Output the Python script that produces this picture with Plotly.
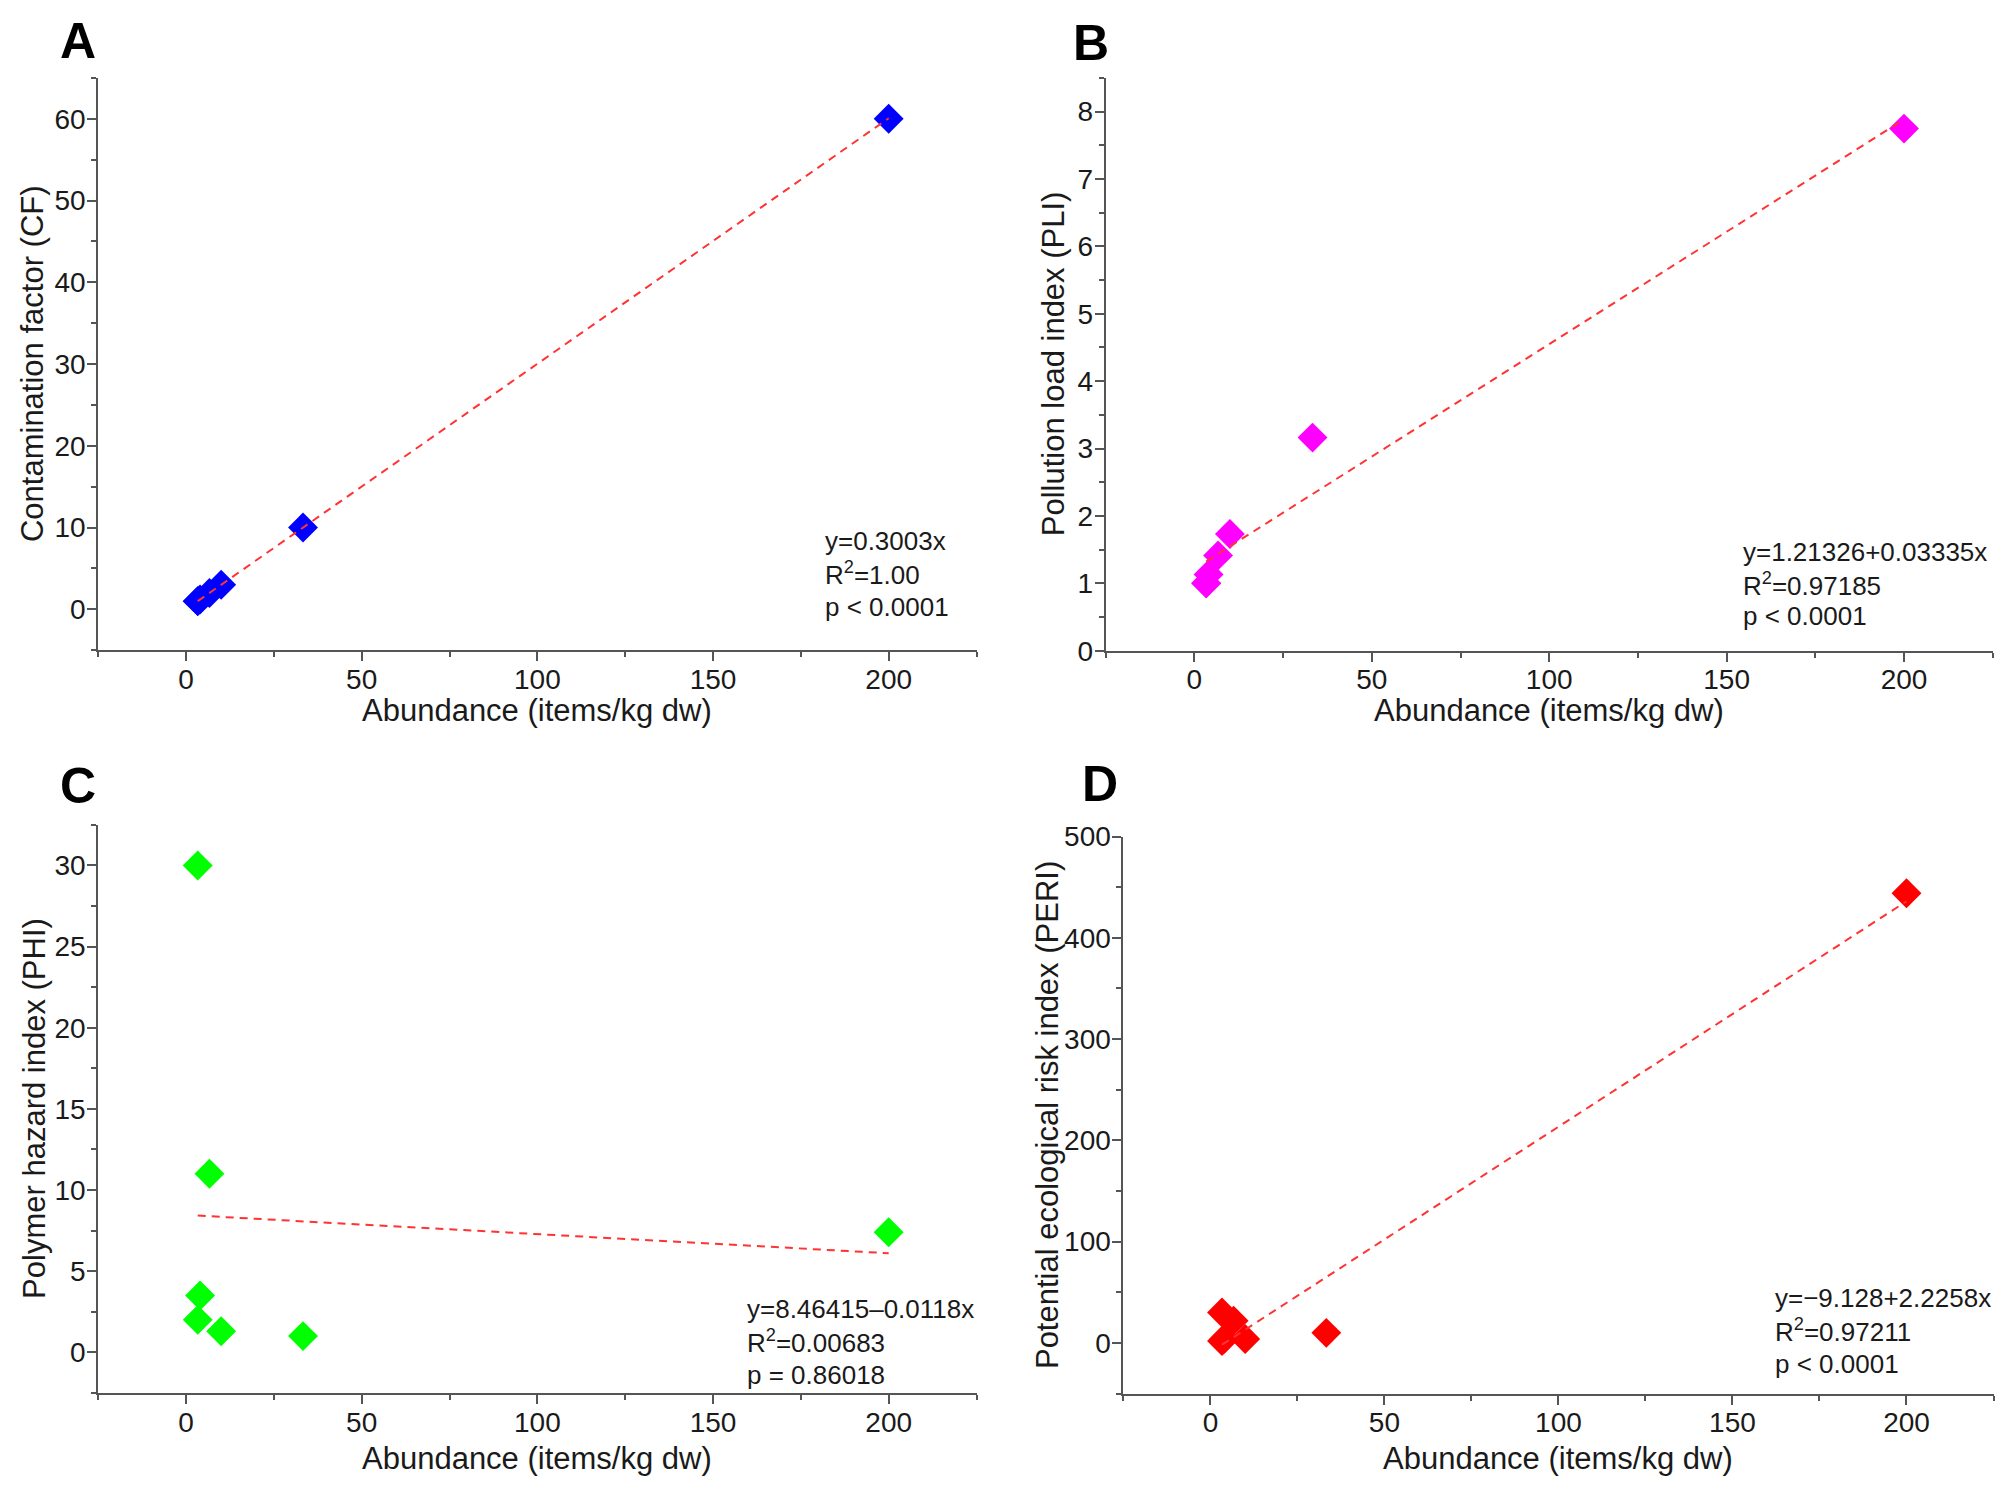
import plotly.graph_objects as go

# ---------------- data ----------------
abundance = [3.33, 3.33, 4.0, 6.67, 10.0, 33.3, 200.0]
cf = [1.0, 1.0, 1.2, 2.0, 3.0, 10.0, 60.0]
pli = [1.0, 1.0, 1.13, 1.414, 1.732, 3.162, 7.746]
phi = [30.0, 2.0, 3.5, 11.0, 1.3, 1.0, 7.4]
peri = [30.0, 2.0, 4.2, 22.0, 3.9, 10.0, 444.0]

panel_letters = ["A", "B", "C", "D"]
y_titles = ["Contamination factor (CF)", "Pollution load index (PLI)",
            "Polymer hazard index (PHI)", "Potential ecological risk index (PERI)"]
x_title = "Abundance (items/kg dw)"
series = [cf, pli, phi, peri]
colors = ["#0000FF", "#FF00FF", "#00FF00", "#FF0000"]
fit_intercept = [0.0, 1.21326, 8.46415, -9.128]
fit_slope = [0.3003, 0.03335, -0.0118, 2.2258]
stat_lines = [
    ["y=0.3003x", "R<sup>2</sup>=1.00", "p < 0.0001"],
    ["y=1.21326+0.03335x", "R<sup>2</sup>=0.97185", "p < 0.0001"],
    ["y=8.46415\u20130.0118x", "R<sup>2</sup>=0.00683", "p = 0.86018"],
    ["y=\u22129.128+2.2258x", "R<sup>2</sup>=0.97211", "p < 0.0001"],
]
y_ranges = [[-5, 65], [0, 8.5], [-2.5, 32.5], [-50, 500]]
y_dtick = [10, 1, 5, 100]
x_range = [-25, 225]

# ---------------- layout geometry (pixels) ----------------
W, H = 2008, 1494
# (left, right, top, bottom) of each plot area
boxes = [
    (98.2, 976.5, 77.9, 650.2),
    (1105.7, 1992.7, 77.8, 650.7),
    (98.2, 976.5, 824.9, 1392.9),
    (1123.4, 1993.5, 836.5, 1393.6),
]
letter_pos = [(58, 41), (1071, 43), (58, 786), (1080, 784)]
ytitle_x = [32, 1053, 35, 1047]
xtitle_y = [711, 711, 1458, 1458]
stat_pos = [
    (823, [541, 573, 607]),
    (1741, [552, 584, 616]),
    (745, [1309, 1341, 1375]),
    (1773, [1298, 1330, 1364]),
]

FONT = "Liberation Sans, Arial, sans-serif"
AXC = "#555555"
TXT = "#1a1a1a"


def px(x):
    return x / W


def py(y):
    return 1 - y / H


fig = go.Figure()
annotations = []

for i in range(4):
    n = "" if i == 0 else str(i + 1)
    xa, ya = "x" + n, "y" + n
    left, right, top, bottom = boxes[i]
    ys = series[i]
    fig.add_trace(go.Scatter(
        x=abundance, y=ys, mode="markers", xaxis=xa, yaxis=ya,
        marker=dict(symbol="diamond", size=23, color=colors[i], line=dict(width=0)),
        showlegend=False, hoverinfo="skip"))
    x0, x1 = min(abundance), max(abundance)
    fig.add_trace(go.Scatter(
        x=[x0, x1], y=[fit_intercept[i] + fit_slope[i] * x0, fit_intercept[i] + fit_slope[i] * x1],
        mode="lines", xaxis=xa, yaxis=ya,
        line=dict(color="#FF3333", width=2, dash="8px,6px"),
        showlegend=False, hoverinfo="skip"))

    common = dict(showline=True, linewidth=2, linecolor=AXC, mirror=False,
                  ticks="outside", ticklen=9, tickwidth=2, tickcolor=AXC,
                  showgrid=False, zeroline=False, automargin=False,
                  tickfont=dict(family=FONT, size=28, color=TXT))
    fig.layout["xaxis" + n] = dict(
        domain=[px(left), px(right)], anchor=ya, range=x_range,
        tickmode="linear", tick0=0, dtick=50, ticklabelstandoff=-6,
        minor=dict(ticks="outside", ticklen=5, tickwidth=2, tickcolor=AXC, dtick=25, tick0=0, showgrid=False),
        **common)
    fig.layout["yaxis" + n] = dict(
        domain=[py(bottom), py(top)], anchor=xa, range=y_ranges[i],
        tickmode="linear", tick0=0, dtick=y_dtick[i], ticklabelstandoff=-4,
        minor=dict(ticks="outside", ticklen=5, tickwidth=2, tickcolor=AXC, dtick=y_dtick[i] / 2, tick0=0, showgrid=False),
        **common)

    # panel letter
    lx, ly = letter_pos[i]
    annotations.append(dict(text="<b>%s</b>" % panel_letters[i], x=px(lx), y=py(ly),
                            xref="paper", yref="paper", xanchor="left", yanchor="middle",
                            showarrow=False, font=dict(family=FONT, size=50, color="#000000")))
    # axis titles
    annotations.append(dict(text=x_title, x=px((left + right) / 2), y=py(xtitle_y[i]),
                            xref="paper", yref="paper", xanchor="center", yanchor="middle",
                            showarrow=False, font=dict(family=FONT, size=31, color=TXT)))
    annotations.append(dict(text=y_titles[i], x=px(ytitle_x[i]), y=py((top + bottom) / 2),
                            xref="paper", yref="paper", xanchor="center", yanchor="middle",
                            textangle=-90, showarrow=False, font=dict(family=FONT, size=31, color=TXT)))
    # statistics
    sx, sys_ = stat_pos[i]
    for t, yy in zip(stat_lines[i], sys_):
        annotations.append(dict(text=t, x=px(sx), y=py(yy), xref="paper", yref="paper",
                                xanchor="left", yanchor="middle", showarrow=False,
                                font=dict(family=FONT, size=26, color=TXT)))

fig.update_layout(template="none", width=W, height=H, margin=dict(l=0, r=0, t=0, b=0, autoexpand=False),
                  paper_bgcolor="white", plot_bgcolor="white",
                  font=dict(family=FONT, color=TXT),
                  annotations=annotations, showlegend=False)

fig.write_html("out.html", config={"displayModeBar": False})
